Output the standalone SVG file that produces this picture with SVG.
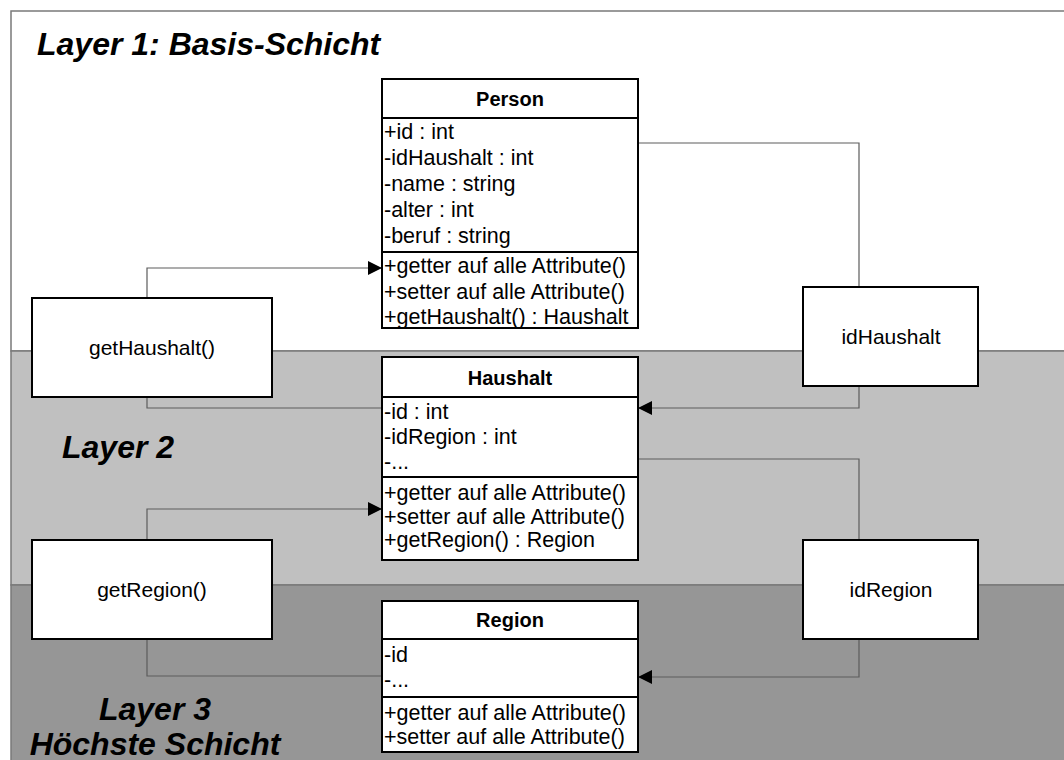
<svg xmlns="http://www.w3.org/2000/svg" width="1064" height="760" viewBox="0 0 1064 760">
  <style>
    .layer { stroke: #7a7a7a; stroke-width: 1.5; }
    .title { font-family: "Liberation Sans", Arial, sans-serif; font-size: 32px; font-weight: bold; font-style: italic; fill: #000; }
    .cls { fill: #fff; stroke: #000; stroke-width: 2; }
    .div { stroke: #000; stroke-width: 2; }
    .head { font-family: "Liberation Sans", Arial, sans-serif; font-size: 20px; font-weight: bold; text-anchor: middle; fill: #000; }
    .row { font-family: "Liberation Sans", Arial, sans-serif; font-size: 21.5px; fill: #000; }
    .box { fill: #fff; stroke: #000; stroke-width: 2; }
    .lbl { font-family: "Liberation Sans", Arial, sans-serif; font-size: 21px; text-anchor: middle; fill: #000; }
    .wire { fill: none; stroke: #5c5c5c; stroke-width: 1.2; }
  </style>
  <defs>
    <marker id="arrow" viewBox="0 0 14 14" refX="14" refY="7" markerWidth="14" markerHeight="14" markerUnits="userSpaceOnUse" orient="auto">
      <path d="M0,0 L14,7 L0,14 Z" fill="#000"/>
    </marker>
  </defs>

  <!-- background layers -->
  <rect width="1064" height="760" fill="#fff"/>
  <g id="layers">
    <rect class="layer" x="11" y="11" width="1060" height="340" fill="#fff"/>
    <rect class="layer" x="11" y="351" width="1060" height="234" fill="#c0c0c0"/>
    <rect class="layer" x="11" y="585" width="1060" height="180" fill="#969696"/>
    <text class="title" x="37" y="55">Layer 1: Basis-Schicht</text>
    <text class="title" x="62" y="458">Layer 2</text>
    <text class="title" x="155" y="720" text-anchor="middle">Layer 3</text>
    <text class="title" x="155" y="755" text-anchor="middle">Höchste Schicht</text>
  </g>

  <!-- connectors -->
  <g id="connectors">
    <polyline class="wire" points="147,298 147,268 382,268" marker-end="url(#arrow)"/>
    <polyline class="wire" points="147,397 147,408 382,408"/>
    <polyline class="wire" points="638,143 859,143 859,287"/>
    <polyline class="wire" points="859,386 859,408 638,408" marker-end="url(#arrow)"/>
    <polyline class="wire" points="147,540 147,509 382,509" marker-end="url(#arrow)"/>
    <polyline class="wire" points="147,639 147,676 382,676"/>
    <polyline class="wire" points="638,459 859,459 859,540"/>
    <polyline class="wire" points="859,639 859,677 638,677" marker-end="url(#arrow)"/>
  </g>

  <!-- class Person -->
  <g id="person">
    <rect class="cls" x="382" y="79" width="256" height="249"/>
    <line class="div" x1="382" y1="118" x2="638" y2="118"/>
    <line class="div" x1="382" y1="252" x2="638" y2="252"/>
    <text class="head" x="510" y="106">Person</text>
    <text class="row" x="384" y="138.5">+id : int</text>
    <text class="row" x="384" y="164.5">-idHaushalt : int</text>
    <text class="row" x="384" y="191">-name : string</text>
    <text class="row" x="384" y="216.5">-alter : int</text>
    <text class="row" x="384" y="242.5">-beruf : string</text>
    <text class="row" x="384" y="273">+getter auf alle Attribute()</text>
    <text class="row" x="384" y="298.5">+setter auf alle Attribute()</text>
    <text class="row" x="384" y="324">+getHaushalt() : Haushalt</text>
  </g>

  <!-- class Haushalt -->
  <g id="haushalt">
    <rect class="cls" x="382" y="357" width="256" height="203"/>
    <line class="div" x1="382" y1="397" x2="638" y2="397"/>
    <line class="div" x1="382" y1="477" x2="638" y2="477"/>
    <text class="head" x="510" y="385">Haushalt</text>
    <text class="row" x="384" y="418.5">-id : int</text>
    <text class="row" x="384" y="443.5">-idRegion : int</text>
    <text class="row" x="384" y="468.5">-...</text>
    <text class="row" x="384" y="500">+getter auf alle Attribute()</text>
    <text class="row" x="384" y="523.5">+setter auf alle Attribute()</text>
    <text class="row" x="384" y="547">+getRegion() : Region</text>
  </g>

  <!-- class Region -->
  <g id="region">
    <rect class="cls" x="382" y="601" width="256" height="151"/>
    <line class="div" x1="382" y1="639" x2="638" y2="639"/>
    <line class="div" x1="382" y1="697" x2="638" y2="697"/>
    <text class="head" x="510" y="627">Region</text>
    <text class="row" x="384" y="662">-id</text>
    <text class="row" x="384" y="687">-...</text>
    <text class="row" x="384" y="720">+getter auf alle Attribute()</text>
    <text class="row" x="384" y="743.5">+setter auf alle Attribute()</text>
  </g>

  <!-- accessor boxes -->
  <g id="getHaushalt">
    <rect class="box" x="32" y="298" width="240" height="99"/>
    <text class="lbl" x="152" y="355">getHaushalt()</text>
  </g>
  <g id="idHaushalt">
    <rect class="box" x="803" y="287" width="175" height="99"/>
    <text class="lbl" x="891" y="343.5">idHaushalt</text>
  </g>
  <g id="getRegion">
    <rect class="box" x="32" y="540" width="240" height="99"/>
    <text class="lbl" x="152" y="597">getRegion()</text>
  </g>
  <g id="idRegion">
    <rect class="box" x="803" y="540" width="175" height="99"/>
    <text class="lbl" x="891" y="597">idRegion</text>
  </g>
</svg>
